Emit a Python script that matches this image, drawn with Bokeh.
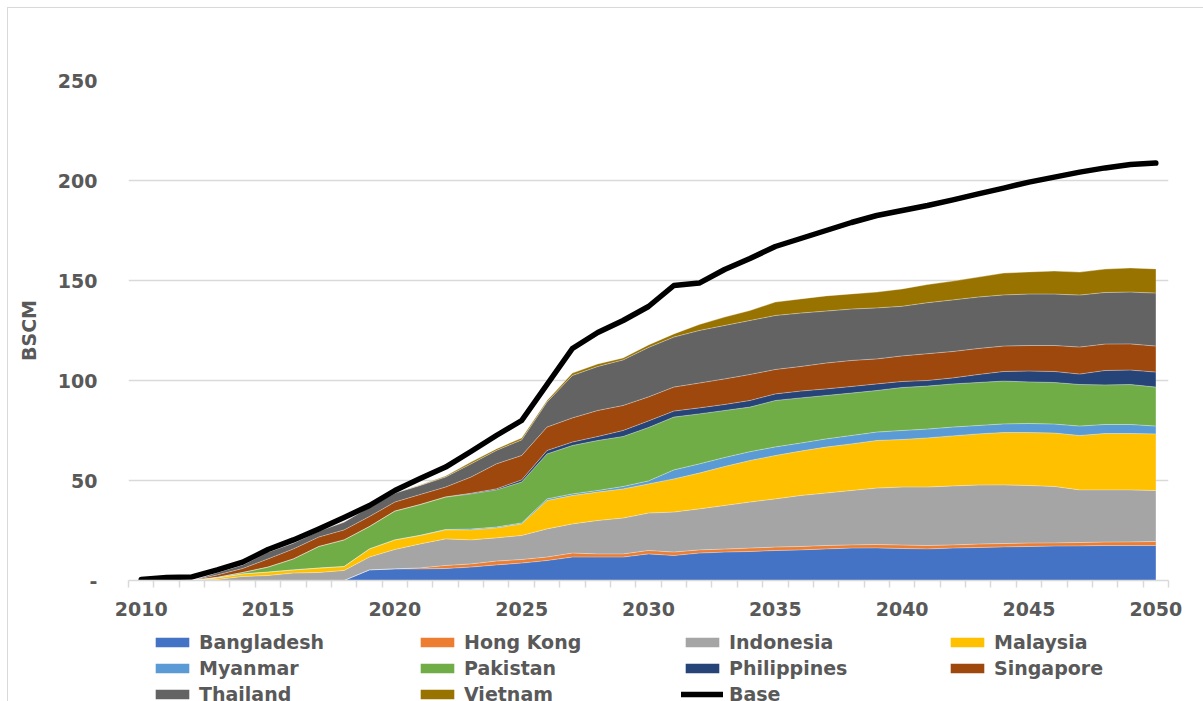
from bokeh.plotting import figure
from bokeh.layouts import column
from bokeh.models import ColumnDataSource, Range1d, FixedTicker, Legend, LegendItem
from bokeh.embed import file_html
from bokeh.resources import INLINE

years = list(range(2010, 2051))

bangladesh = [0, 0, 0, 0, 0, 0, 0, 0, 0, 5.3, 5.8, 5.8, 6.0, 6.7, 7.8, 8.7, 10.0, 11.7, 11.7, 11.7,
              13.3, 12.5, 13.7, 14.2, 14.5, 15.0, 15.3, 15.8, 16.2, 16.3, 16.0, 15.8, 16.2, 16.5, 16.8,
              17.0, 17.2, 17.3, 17.5, 17.5, 17.5]
hong_kong = [0, 0, 0, 0, 0, 0, 0, 0, 0, 0, 0, 0.5, 1.5, 1.6, 1.9, 1.8, 1.7, 2.0, 1.6, 1.6,
             1.7, 1.7, 1.6, 1.5, 1.7, 1.7, 1.7, 1.7, 1.6, 1.7, 1.7, 1.7, 1.6, 1.7, 1.7,
             1.7, 1.6, 1.7, 1.7, 1.8, 2.0]
indonesia = [0, 0, 0, 0.5, 2.0, 2.5, 3.7, 4.0, 5.0, 6.4, 9.7, 12.0, 13.3, 12.0, 11.6, 12.0, 14.1, 14.6,
             16.7, 17.9, 18.7, 20.0, 20.5, 21.8, 23.0, 24.1, 25.5, 26.2, 27.2, 28.2, 29.0, 29.2, 29.5,
             29.5, 29.3, 28.8, 28.2, 26.3, 26.1, 26.0, 25.5]
malaysia = [0, 0, 0, 0.8, 1.3, 1.7, 1.6, 2.2, 2.0, 4.1, 4.8, 4.2, 4.5, 5.0, 5.0, 5.8, 14.2, 14.2, 14.2,
            14.6, 14.6, 16.6, 17.9, 19.5, 20.8, 21.7, 22.2, 23.0, 23.3, 23.8, 23.8, 24.6, 25.0, 25.6,
            26.2, 26.5, 26.7, 27.2, 28.2, 28.2, 28.3]
myanmar = [0, 0, 0, 0, 0, 0, 0, 0, 0, 0, 0, 0.1, 0.2, 0.4, 0.4, 0.5, 0.8, 0.8, 0.8, 1.2,
           1.5, 4.5, 4.6, 4.5, 4.4, 4.3, 4.0, 4.1, 4.2, 4.2, 4.5, 4.4, 4.4, 4.2, 4.3,
           4.5, 4.5, 4.7, 4.5, 4.5, 3.9]
pakistan = [0, 0, 0, 0.3, 0.7, 2.5, 5.5, 10.8, 13.3, 11.2, 14.4, 15.4, 16.2, 17.6, 18.6, 20.4, 22.5,
            24.2, 25.0, 25.0, 26.7, 26.4, 25.0, 23.5, 22.3, 23.2, 22.6, 21.7, 21.2, 20.8, 21.5, 21.5,
            21.6, 21.5, 21.4, 20.8, 20.8, 20.8, 19.8, 20.0, 19.5]
philippines = [0, 0, 0, 0, 0, 0, 0, 0, 0, 0, 0, 0, 0.1, 0.3, 0.5, 1.1, 1.7, 1.7, 2.0, 3.0,
               3.3, 3.0, 3.0, 3.0, 3.3, 3.3, 3.4, 3.3, 3.3, 3.3, 3.0, 2.8, 3.0, 4.0, 4.8,
               5.4, 5.5, 5.2, 7.2, 7.2, 7.5]
singapore = [0, 0, 0, 1.2, 2.0, 4.1, 5.0, 4.7, 5.0, 5.0, 4.5, 5.0, 4.9, 8.1, 12.5, 12.2, 11.7, 12.1,
             13.0, 12.5, 12.0, 12.0, 12.4, 12.8, 13.0, 12.2, 12.3, 12.9, 13.0, 12.5, 12.8, 13.4, 13.2,
             13.0, 12.7, 12.8, 13.0, 13.5, 13.2, 13.1, 13.0]
thailand = [0, 0, 0, 1.2, 1.8, 3.4, 2.9, 3.0, 3.9, 4.7, 4.5, 4.5, 5.0, 6.6, 6.7, 7.8, 12.5, 21.2, 22.0,
            22.8, 24.7, 25.0, 26.3, 26.7, 27.0, 27.0, 26.7, 26.0, 25.7, 25.5, 24.8, 25.5, 25.8, 25.7,
            25.6, 25.7, 25.7, 26.0, 25.8, 25.9, 26.5]
vietnam = [0, 0, 0, 0, 0, 0, 0, 0, 0, 0, 0, 0.2, 0.5, 0.9, 0.8, 1.0, 0.8, 1.2, 1.3, 1.0,
           1.3, 1.6, 3.0, 4.2, 5.0, 6.7, 7.1, 7.6, 7.6, 7.9, 8.7, 9.1, 9.4, 10.0, 10.9,
           11.1, 11.5, 11.5, 11.7, 12.1, 12.1]
base = [0.5, 1.5, 1.8, 5.3, 9.2, 15.5, 20.3, 25.8, 31.5, 37.5, 45.0, 51.0, 56.7, 64.5, 72.5, 80.0,
        98.0, 116.0, 124.0, 130.0, 137.0, 147.5, 148.7, 155.5, 161.0, 167.0, 171.0, 175.0, 179.0,
        182.5, 185.0, 187.5, 190.3, 193.3, 196.2, 199.2, 201.7, 204.2, 206.3, 208.0, 208.7]

names = ["Bangladesh", "Hong Kong", "Indonesia", "Malaysia", "Myanmar",
         "Pakistan", "Philippines", "Singapore", "Thailand", "Vietnam"]
keys = ["bangladesh", "hong_kong", "indonesia", "malaysia", "myanmar",
        "pakistan", "philippines", "singapore", "thailand", "vietnam"]
series = [bangladesh, hong_kong, indonesia, malaysia, myanmar,
          pakistan, philippines, singapore, thailand, vietnam]
colors = ["#4472C4", "#ED7D31", "#A5A5A5", "#FFC000", "#5B9BD5",
          "#70AD47", "#264478", "#9E480E", "#636363", "#997300"]
y_ticks = [0, 50, 100, 150, 200, 250]
x_label_years = [2010, 2015, 2020, 2025, 2030, 2035, 2040, 2045, 2050]

data = {"year": years, "base": base}
for k, s in zip(keys, series):
    data[k] = s
source = ColumnDataSource(data)

FONT = "DejaVu Sans"
TXT = "#595959"
GRID = "#d9d9d9"

# the layout sits 8px in from the page corner (7px gap + 1px border line)
p = figure(width=1195, height=612,
           x_range=Range1d(years[0] - 0.5, years[-1] + 0.5),
           y_range=Range1d(0, 250),
           output_backend="svg", toolbar_location=None,
           min_border_left=120, min_border_right=35,
           min_border_top=72, min_border_bottom=40)
p.outline_line_color = None
p.background_fill_color = "white"
p.border_fill_color = "white"

areas = p.varea_stack(stackers=keys, x="year", color=colors, source=source)
p.vline_stack(stackers=keys, x="year", source=source, line_color="white",
              line_alpha=0.35, line_width=1)
base_r = p.line("year", "base", source=source, line_color="black", line_width=5.5,
                line_cap="round", line_join="round")

# x axis
p.xaxis.ticker = FixedTicker(ticks=x_label_years,
                             minor_ticks=[y - 0.5 for y in years] + [years[-1] + 0.5])
p.xaxis.major_tick_out = 0
p.xaxis.major_tick_in = 0
p.xaxis.minor_tick_out = 7
p.xaxis.minor_tick_in = 0
p.xaxis.minor_tick_line_color = GRID
p.xaxis.minor_tick_line_width = 1.5
p.xaxis.axis_line_color = GRID
p.xaxis.axis_line_width = 1.5
p.xaxis.major_label_text_font = FONT
p.xaxis.major_label_text_font_style = "bold"
p.xaxis.major_label_text_font_size = "19px"
p.xaxis.major_label_text_color = TXT
p.xaxis.major_label_standoff = 14
p.xgrid.visible = False

# y axis
p.yaxis.ticker = FixedTicker(ticks=y_ticks)
p.yaxis.major_label_overrides = {0: "-"}
p.yaxis.axis_line_color = None
p.yaxis.major_tick_out = 0
p.yaxis.major_tick_in = 0
p.yaxis.minor_tick_line_color = None
p.yaxis.major_label_text_font = FONT
p.yaxis.major_label_text_font_style = "bold"
p.yaxis.major_label_text_font_size = "19px"
p.yaxis.major_label_text_color = TXT
p.yaxis.major_label_standoff = 31
p.yaxis.axis_label = "BSCM"
p.yaxis.axis_label_text_font = FONT
p.yaxis.axis_label_text_font_style = "bold"
p.yaxis.axis_label_text_font_size = "19px"
p.yaxis.axis_label_text_color = TXT
p.yaxis.axis_label_standoff = 15
p.ygrid.grid_line_color = GRID
p.ygrid.grid_line_width = 1.5

# legend strip below the chart (its own figure so that nothing is clipped)
pl = figure(width=1195, height=81, x_range=Range1d(0, 1), y_range=Range1d(0, 1),
            output_backend="svg", toolbar_location=None,
            x_axis_type=None, y_axis_type=None,
            min_border_left=120, min_border_right=35, min_border_top=0, min_border_bottom=0)
pl.outline_line_color = None
pl.grid.visible = False
# legend swatches only: placed outside the visible range of this strip
leg_areas = [pl.varea(x=[-10, -9], y1=[-10, -10], y2=[-9, -9], fill_color=c) for c in colors]
leg_line = pl.line(x=[-10, -9], y=[-10, -10], line_color="black", line_width=5.5,
                   line_cap="round")

items = [LegendItem(label=n, renderers=[r]) for n, r in zip(names, leg_areas)]
items.append(LegendItem(label="Base", renderers=[leg_line]))
legend = Legend(items=items, location=(23, -4), orientation="horizontal", ncols=4,
                glyph_width=42, glyph_height=12, label_standoff=6, label_width=213,
                spacing=4, padding=0, margin=0,
                label_text_font=FONT, label_text_font_style="bold",
                label_text_font_size="19px", label_text_color=TXT,
                border_line_color=None, background_fill_alpha=0)
pl.add_layout(legend, "center")

layout = column(p, pl, spacing=0,
                styles={"margin-left": "7px", "margin-top": "7px",
                        "border-left": "1px solid #d9d9d9",
                        "border-top": "1px solid #d9d9d9"})
open("out.html", "w").write(file_html(layout, INLINE))
